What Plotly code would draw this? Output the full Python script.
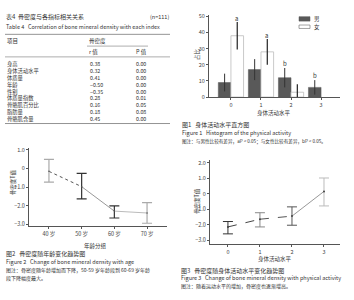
import plotly.graph_objects as go

W, H = 354, 300
FONT = "Noto Sans CJK SC, Liberation Sans, Arial"
TXT = "#333333"


def px(x):
    return x / W


def py(y):
    return 1 - y / H


# ---------------- Table 4 data ----------------
table_title_cn = "表4  骨密度与各指标相关关系"
table_n = "(n=111)"
table_title_en = "Table 4   Correlation of bone mineral density with each index"
table_head = ["项目", "骨密度", "r 值", "P 值"]
row_items = ["身高", "身体活动水平", "体质量", "年龄", "性别",
             "体质量指数", "骨骼肌百分比", "脂肪量", "骨骼肌含量"]
r_values = ["0.38", "0.32", "0.41", "−0.50", "−0.35", "0.28", "0.16", "0.18", "0.45"]
p_values = ["0.00", "0.00", "0.00", "0.00", "0.00", "0.01", "0.05", "0.08", "0.00"]

# ---------------- Figure 1 data ----------------
activity_levels = [0, 1, 2, 3]
male_pct = [9, 17, 12, 6]
male_err = [5.5, 6.5, 6, 4.5]
female_pct = [38, 28, 3, None]
female_err = [8.5, 8, 5, None]
sig_male = ["", "", "b", "b"]
sig_female = ["a", "a", "", ""]
legend_names = ["男", "女"]
fig1_ylabel = "占比"
fig1_xlabel = "身体活动水平"

# ---------------- Figure 2 data ----------------
age_groups = [40, 50, 60, 70]
age_labels = ["40 岁", "50 岁", "60 岁", "70 岁"]
bmd_age_mean = [-0.15, -0.97, -2.28, -2.38]
bmd_age_upper = [0.49, -0.26, -2.0, -1.83]
bmd_age_lower = [-0.73, -1.62, -2.65, -2.93]
age_err_colors = ["#aaaaaa", "#333333", "#333333", "#aaaaaa"]

# ---------------- Figure 3 data ----------------
pa_levels = [0, 1, 2, 3]
bmd_pa_mean = [-2.15, -1.65, -1.45, 0.15]
bmd_pa_upper = [-1.8, -1.23, -0.85, 1.02]
bmd_pa_lower = [-2.6, -2.15, -2.04, -0.79]
pa_err_colors = ["#333333", "#888888", "#555555", "#bbbbbb"]

MALE_COL = "#595959"

fig = go.Figure()

# ---------- Figure 1 bars ----------
fig.add_trace(go.Bar(
    x=activity_levels, y=male_pct, name=legend_names[0], showlegend=False,
    marker=dict(color=MALE_COL, line=dict(color=MALE_COL, width=0.5)),
    error_y=dict(type="data", array=male_err, color="#333333", thickness=1, width=0),
    xaxis="x", yaxis="y"))
fig.add_trace(go.Bar(
    x=activity_levels, y=female_pct, name=legend_names[1], showlegend=False,
    marker=dict(color="white", line=dict(color="#bbbbbb", width=0.8)),
    error_y=dict(type="data", array=female_err, color="#222222", thickness=1.2, width=0),
    xaxis="x", yaxis="y"))

annotations = []
for i, lv in enumerate(activity_levels):
    if sig_male[i]:
        annotations.append(dict(x=lv - 0.2, y=male_pct[i] + male_err[i] + 3, xref="x", yref="y",
                                text=sig_male[i], showarrow=False, borderpad=0,
                                font=dict(size=6, color=TXT, family=FONT)))
    if sig_female[i]:
        annotations.append(dict(x=lv + 0.2, y=female_pct[i] + female_err[i] + 2, xref="x", yref="y",
                                text=sig_female[i], showarrow=False, borderpad=0,
                                font=dict(size=6, color=TXT, family=FONT)))

# ---------- Figure 2 lines ----------
seg_styles2 = [("dot", "#555555"), ("solid", "#999999"), ("solid", "#bbbbbb")]
for i in range(len(age_groups) - 1):
    dash, col = seg_styles2[i]
    fig.add_trace(go.Scatter(x=age_groups[i:i + 2], y=bmd_age_mean[i:i + 2], mode="lines",
                             line=dict(color=col, width=1, dash=dash), showlegend=False,
                             xaxis="x2", yaxis="y2"))
for i in range(len(age_groups)):
    fig.add_trace(go.Scatter(
        x=[age_groups[i]], y=[bmd_age_mean[i]], mode="markers",
        marker=dict(size=1.5, color="#555555"), showlegend=False,
        error_y=dict(type="data", symmetric=False,
                     array=[bmd_age_upper[i] - bmd_age_mean[i]],
                     arrayminus=[bmd_age_mean[i] - bmd_age_lower[i]],
                     color=age_err_colors[i], thickness=1.2, width=5),
        xaxis="x2", yaxis="y2"))

# ---------- Figure 3 lines ----------
seg_styles3 = [("dash", "#444444"), ("dash", "#555555"), ("solid", "#999999")]
for i in range(len(pa_levels) - 1):
    dash, col = seg_styles3[i]
    fig.add_trace(go.Scatter(x=pa_levels[i:i + 2], y=bmd_pa_mean[i:i + 2], mode="lines",
                             line=dict(color=col, width=1, dash=dash), showlegend=False,
                             xaxis="x3", yaxis="y3"))
for i in range(len(pa_levels)):
    fig.add_trace(go.Scatter(
        x=[pa_levels[i]], y=[bmd_pa_mean[i]], mode="markers",
        marker=dict(size=2, color="#444444"), showlegend=False,
        error_y=dict(type="data", symmetric=False,
                     array=[bmd_pa_upper[i] - bmd_pa_mean[i]],
                     arrayminus=[bmd_pa_mean[i] - bmd_pa_lower[i]],
                     color=pa_err_colors[i], thickness=1, width=5),
        xaxis="x3", yaxis="y3"))


def txt(x, y, s, size=6, anchor="left", color=TXT, angle=0, align="left"):
    annotations.append(dict(x=px(x), y=py(y), xref="paper", yref="paper", text=s,
                            showarrow=False, xanchor=anchor, yanchor="middle", textangle=angle,
                            align=align, borderpad=0,
                            font=dict(size=size, color=color, family=FONT)))


shapes = []


def hline(x0, x1, y, color="#777777", w=0.8):
    shapes.append(dict(type="line", xref="paper", yref="paper", x0=px(x0), x1=px(x1),
                       y0=py(y), y1=py(y), line=dict(color=color, width=w)))


# ---------- Table ----------
txt(5, 15, table_title_cn, size=6)
txt(170, 15, table_n, size=5.5, anchor="right")
txt(5, 26, table_title_en, size=5.5)
hline(5, 170, 33)
txt(6, 40, table_head[0], size=5.5)
txt(88, 40, table_head[1], size=5.5)
hline(87, 148, 45, w=0.6)
txt(88, 51.5, table_head[2], size=5.5)
txt(135, 51.5, table_head[3], size=5.5)
hline(5, 170, 56, w=0.6)
ROW_MID = 63.5 + 7 * 4
txt(6, ROW_MID, "<br>".join(row_items), size=5.3)
txt(89, ROW_MID, "<br>".join(r_values), size=5.3)
txt(135, ROW_MID, "<br>".join(p_values), size=5.3)
hline(5, 170, 124)

# ---------- Figure 1 legend (drawn) ----------
shapes.append(dict(type="rect", xref="paper", yref="paper", x0=px(299), x1=px(310),
                   y0=py(19.5), y1=py(15), fillcolor=MALE_COL, line=dict(color=MALE_COL, width=0.5)))
shapes.append(dict(type="rect", xref="paper", yref="paper", x0=px(299), x1=px(310),
                   y0=py(27), y1=py(23.5), fillcolor="white", line=dict(color="#666666", width=0.6)))
txt(313, 17, legend_names[0], size=5.5)
txt(313, 25.5, legend_names[1], size=5.5)

# ---------- captions / axis titles ----------
txt(197, 53, fig1_ylabel, size=5.5, anchor="center", angle=-90)
txt(274, 113, fig1_xlabel, size=5.5, anchor="center")
txt(181, 125, "图1   身体活动水平直方图", size=6)
txt(181, 133.5, "Figure 1   Histogram of the physical activity", size=5.5)
txt(181, 142, "图注：与男性比较有差异，aP < 0.05；与女性比较有差异，bP < 0.05。", size=4.6)

txt(13, 184, "骨密度T值", size=5.5, anchor="center", angle=-90)
txt(95, 249, "年龄分组", size=5.5, anchor="center")
txt(5, 257, "图2   骨密度随年龄变化趋势图", size=6)
txt(5, 265.5, "Figure 2   Change of bone mineral density with age", size=5.5)
txt(5, 273.5, "图注：骨密度随年龄增加而下降，50-59 岁年龄段到 60-69 岁年龄", size=5)
txt(5, 281.5, "段下降幅度最大。", size=5)

txt(197, 203, "骨密度T值", size=5.5, anchor="center", angle=-90)
txt(275, 262, "身体活动水平", size=5.5, anchor="center")
txt(180, 274, "图3   骨密度随身体活动水平变化趋势图", size=6)
txt(180, 282, "Figure 3   Change of bone mineral density with physical activity", size=5.5)
txt(180, 290, "图注：随着运动水平的增加，骨密度也逐渐增高。", size=5)

axis_common = dict(showline=True, linecolor="#555555", linewidth=1, ticks="outside",
                   ticklen=2, tickcolor="#555555", showgrid=False, zeroline=False,
                   tickfont=dict(size=5.5, color="#444444", family=FONT))

fig.update_layout(
    width=W, height=H, margin=dict(l=0, r=0, t=0, b=0),
    paper_bgcolor="white", plot_bgcolor="white",
    font=dict(family=FONT, color=TXT, size=6),
    barmode="group", bargap=0.16, bargroupgap=0,
    showlegend=False,
    xaxis=dict(domain=[px(209), px(340)], range=[-0.73, 3.63], anchor="y",
               tickvals=activity_levels, ticktext=[str(v) for v in activity_levels], **axis_common),
    yaxis=dict(domain=[py(97), py(13)], range=[0, 51], anchor="x",
               tickvals=[0, 10, 20, 30, 40, 50], **axis_common),
    xaxis2=dict(domain=[px(29), px(167)], range=[33.9, 76.1], anchor="y2",
                tickvals=age_groups, ticktext=age_labels, **axis_common),
    yaxis2=dict(domain=[py(229), py(149)], range=[-3.1, 1.1], anchor="x2",
                tickvals=[1, 0, -1, -2, -3], ticktext=["1.0", "0", "−1.0", "−2.0", "−3.0"],
                **axis_common),
    xaxis3=dict(domain=[px(210), px(340)], range=[-0.56, 3.5], anchor="y3",
                tickvals=pa_levels, ticktext=[str(v) for v in pa_levels], **axis_common),
    yaxis3=dict(domain=[py(247), py(161)], range=[-3.26, 2.2], anchor="x3",
                tickvals=[2, 1, 0, -1, -2, -3], ticktext=["2.0", "1.0", "0", "−1.0", "−2.0", "−3.0"],
                **axis_common),
    annotations=annotations,
    shapes=shapes,
)

fig.write_html("out.html", config={"displayModeBar": False},
               post_script="document.body.style.margin='0';document.body.style.overflow='hidden';")
